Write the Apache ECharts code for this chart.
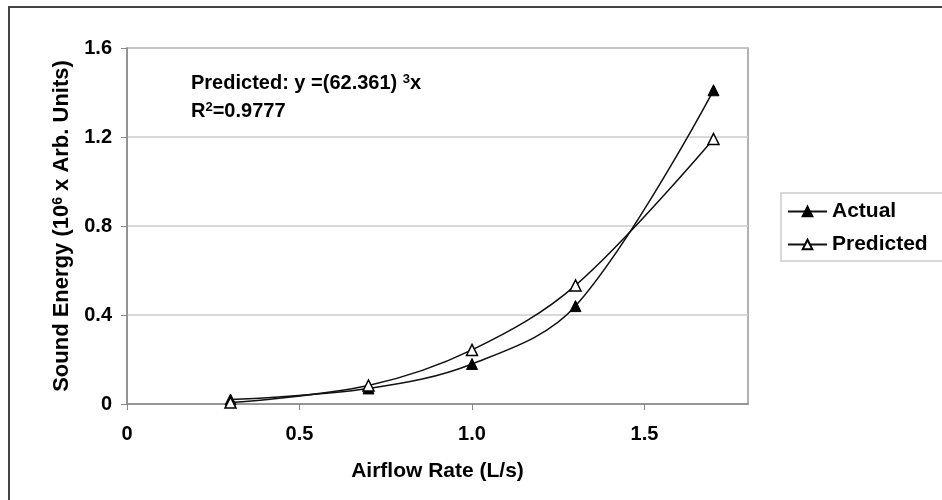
<!DOCTYPE html>
<html>
<head>
<meta charset="utf-8">
<script src="https://cdn.jsdelivr.net/npm/echarts@6/dist/echarts.min.js"></script>
<style>
html,body{margin:0;padding:0;background:#fff;}
#chart{width:942px;height:500px;}
</style>
</head>
<body>
<div id="chart"></div>
<script>
var airflow = [0.3, 0.7, 1.0, 1.3, 1.7];
var actual = [0.02, 0.07, 0.18, 0.44, 1.41];
var predicted = [0.0065, 0.083, 0.243, 0.533, 1.191];
var xTicks = [0, 0.5, 1.0, 1.5];
var yTicks = [0, 0.4, 0.8, 1.2, 1.6];
var seriesNames = ['Actual', 'Predicted'];

var FONT = '"Liberation Sans", Arial, sans-serif';
function pairs(xs, ys) { return xs.map(function (x, i) { return [x, ys[i]]; }); }

var chart = echarts.init(document.getElementById('chart'), null, {renderer: 'canvas'});
chart.setOption({
  animation: false,
  backgroundColor: '#fff',
  textStyle: {fontFamily: FONT},
  grid: {left: 127, right: 194, top: 48, bottom: 96, show: true, borderColor: '#999', borderWidth: 1.5, containLabel: false},
  title: [
    {text: 'Predicted: y =(62.361) {s|3}x', left: 186, top: 68,
     textStyle: {fontFamily: FONT, fontWeight: 'bold', fontSize: 20, color: '#000',
       rich: {s: {fontFamily: FONT, fontWeight: 'bold', fontSize: 13, verticalAlign: 'top', color: '#000'}}}},
    {text: 'R{s|2}=0.9777', left: 186, top: 96,
     textStyle: {fontFamily: FONT, fontWeight: 'bold', fontSize: 20, color: '#000',
       rich: {s: {fontFamily: FONT, fontWeight: 'bold', fontSize: 13, verticalAlign: 'top', color: '#000'}}}}
  ],
  legend: {
    orient: 'vertical', left: 781, top: 193,
    data: seriesNames,
    itemWidth: 39, itemHeight: 12, itemGap: 12,
    padding: [8, 40, 6, 6],
    borderColor: '#ccc', borderWidth: 1.5,
    textStyle: {fontFamily: FONT, fontWeight: 'bold', fontSize: 21, color: '#000'}
  },
  xAxis: {
    type: 'value', min: 0, max: 1.8, interval: 0.5,
    name: 'Airflow Rate (L/s)', nameLocation: 'middle', nameGap: 57,
    nameTextStyle: {fontFamily: FONT, fontWeight: 'bold', fontSize: 21, color: '#000'},
    axisLine: {show: true, lineStyle: {color: '#888', width: 1.5}},
    axisTick: {show: true, length: 6, lineStyle: {color: '#888'}, customValues: xTicks},
    axisLabel: {margin: 20, fontFamily: FONT, fontWeight: 'bold', fontSize: 20, color: '#000',
      customValues: xTicks,
      formatter: function (v) { return v === 0 ? '0' : v.toFixed(1); }},
    splitLine: {show: false}
  },
  yAxis: {
    type: 'value', min: 0, max: 1.6, interval: 0.4,
    name: 'Sound Energy (10{s|6} x Arb. Units)', nameLocation: 'middle', nameGap: 52, nameRotate: 90,
    nameTextStyle: {fontFamily: FONT, fontWeight: 'bold', fontSize: 22, color: '#000',
      rich: {s: {fontFamily: FONT, fontWeight: 'bold', fontSize: 14, verticalAlign: 'top', color: '#000'}}},
    axisLine: {show: true, lineStyle: {color: '#888', width: 1.5}},
    axisTick: {show: true, length: 6, lineStyle: {color: '#888'}},
    axisLabel: {margin: 15, fontFamily: FONT, fontWeight: 'bold', fontSize: 20, color: '#000',
      formatter: function (v) { return v === 0 ? '0' : v.toFixed(1); }},
    splitLine: {show: true, lineStyle: {color: '#ccc', width: 1.5}}
  },
  graphic: [
    {type: 'polyline', shape: {points: [[9, 500], [9, 7], [942, 7]]},
     style: {stroke: '#444', lineWidth: 2, fill: null}, silent: true}
  ],
  series: [
    {name: seriesNames[0], type: 'line', data: pairs(airflow, actual), smooth: 0.35,
     symbol: 'triangle', symbolSize: 11, showSymbol: true,
     lineStyle: {color: '#111', width: 1.5},
     itemStyle: {color: '#000', borderColor: '#000', borderWidth: 1}, z: 3},
    {name: seriesNames[1], type: 'line', data: pairs(airflow, predicted), smooth: 0.35,
     symbol: 'triangle', symbolSize: 11, showSymbol: true,
     lineStyle: {color: '#111', width: 1.5},
     itemStyle: {color: '#fff', borderColor: '#000', borderWidth: 1.5}, z: 4}
  ]
});
</script>
</body>
</html>
